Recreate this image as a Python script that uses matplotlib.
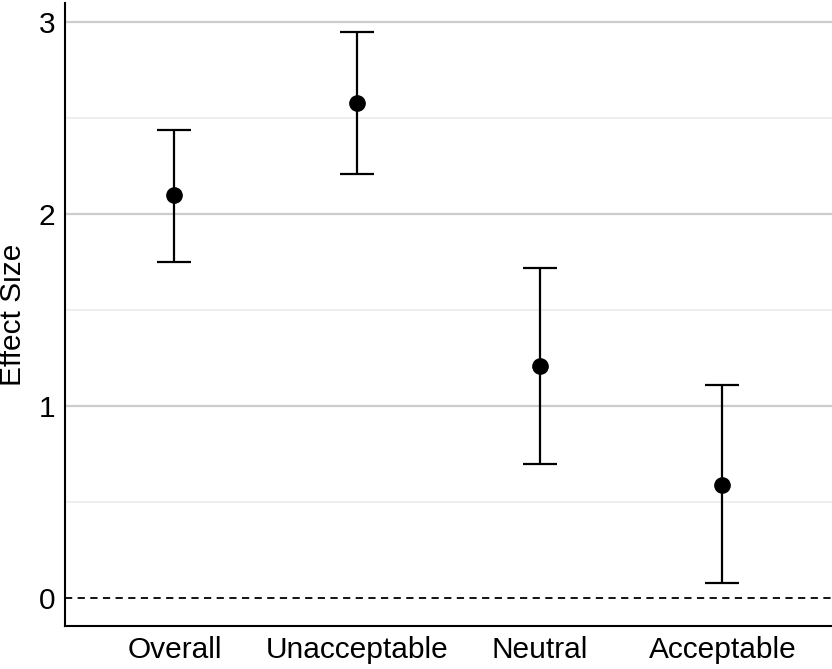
import matplotlib
matplotlib.use("Agg")
import matplotlib.pyplot as plt
import numpy as np

# --- dane ---
categories = ['Overall', 'Unacceptable', 'Neutral', 'Acceptable']
effect = [2.10, 2.58, 1.21, 0.59]
ci_low = [1.75, 2.21, 0.70, 0.08]
ci_high = [2.44, 2.95, 1.72, 1.11]

plt.rcParams['font.family'] = ['Liberation Sans', 'DejaVu Sans']

fig = plt.figure(figsize=(8.32, 6.69), dpi=100)
ax = fig.add_axes([0.078, 0.064, 0.922, 0.9315])

x = np.arange(1, len(categories) + 1)
eff = np.array(effect)
err = [eff - np.array(ci_low), np.array(ci_high) - eff]

# siatka
for yv in [0.5, 1.5, 2.5]:
    ax.axhline(yv, color='#ebebeb', lw=1.2, zorder=0)
for yv in [1, 2, 3]:
    ax.axhline(yv, color='#cccccc', lw=1.6, zorder=0)
ax.axhline(0, color='black', lw=1.3, ls=(0, (4, 3)), zorder=1)

ax.errorbar(x, eff, yerr=err, fmt='o', color='black', ms=11,
            elinewidth=1.6, capsize=12.5, capthick=1.6, zorder=3)

ax.set_xlim(0.4, 4.6)
ax.set_ylim(-0.146, 3.1)
ax.set_xticks(x)
ax.set_xticklabels(categories)
ax.set_yticks([0, 1, 2, 3])
ax.tick_params(axis='both', length=0, labelsize=21.5, pad=7)
ax.set_ylabel('Effect Size', fontsize=21.5, labelpad=8)

for side in ['top', 'right']:
    ax.spines[side].set_visible(False)
for side in ['left', 'bottom']:
    ax.spines[side].set_linewidth(1.5)
    ax.spines[side].set_color('black')

plt.savefig('out.png', dpi=100)
